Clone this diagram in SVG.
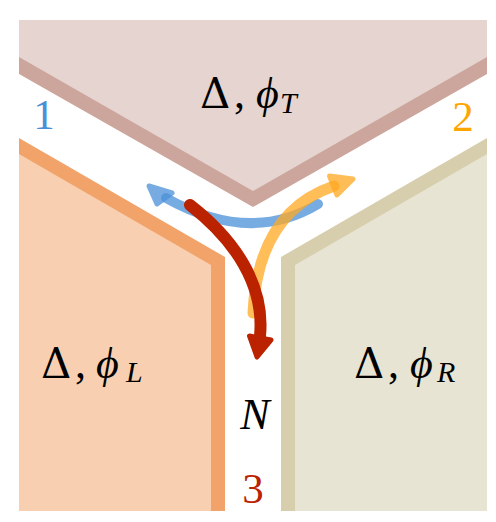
<svg xmlns="http://www.w3.org/2000/svg" width="496" height="522" viewBox="0 0 496 522">
<style>
.lbl{font-family:"Liberation Serif","DejaVu Serif",serif;font-size:44px;fill:#000}
.dl{font-family:"DejaVu Serif",serif;font-size:42px}
.it{font-style:italic}
.sub{font-style:italic;font-size:30px}
.num{font-family:"Liberation Serif","DejaVu Serif",serif;font-size:43px;text-anchor:middle}
.head{stroke-width:5;stroke-linejoin:round}
.line{fill:none;stroke-linecap:round}
</style>
<rect width="496" height="522" fill="#fff"/>
<g id="top">
<polygon points="19,20 487,20 487,74 253,207 19,74" fill="#cca69c"/>
<polygon points="19,20 487,20 487,57 253,191 19,57" fill="#e5d4cf"/>
<text class="lbl" y="108"><tspan x="200" class="dl">Δ</tspan><tspan x="234">,</tspan><tspan x="256" class="it">ϕ</tspan><tspan x="280" y="113" class="sub">T</tspan></text>
</g>
<g id="left">
<polygon points="19,138 225,257 225,511 19,511" fill="#f1a36a"/>
<polygon points="19,154 211,265 211,511 19,511" fill="#f8d0b1"/>
<text class="lbl" y="378"><tspan x="41" class="dl">Δ</tspan><tspan x="75">,</tspan><tspan x="96" class="it">ϕ</tspan><tspan x="126" y="382" class="sub">L</tspan></text>
</g>
<g id="right">
<polygon points="281,257 487,138 487,511 281,511" fill="#d6ceac"/>
<polygon points="295,265 487,154 487,511 295,511" fill="#e8e4d3"/>
<text class="lbl" y="378"><tspan x="354" class="dl">Δ</tspan><tspan x="388">,</tspan><tspan x="410" class="it">ϕ</tspan><tspan x="437" y="382" class="sub">R</tspan></text>
</g>
<g id="labels">
<text class="num" x="44" y="129" fill="#4a90d9">1</text>
<text class="num" x="463" y="131" fill="#ffa500">2</text>
<text class="num" x="253" y="503" fill="#bb2200">3</text>
<text class="lbl it" x="255" y="429" text-anchor="middle">N</text>
</g>
<g id="connectors">
<path class="line" d="M318 204 Q250 245 166 198" stroke="#4a90d9" stroke-width="10" opacity="0.75"/>
<polygon class="head" points="149,186 157,204 172,193" fill="#4a90d9" stroke="#4a90d9" opacity="0.75"/>
<path class="line" d="M253 313 Q258 212 334 186" stroke="#ffa820" stroke-width="11" opacity="0.75"/>
<polygon class="head" points="353,179 329.5,176 337,195" fill="#ffa820" stroke="#ffa820" opacity="0.75"/>
<path class="line" d="M190 205 C235 240 265 285 260 336" stroke="#bb2200" stroke-width="12"/>
<polygon class="head" points="257,357 249.5,336 271,340" fill="#bb2200" stroke="#bb2200"/>
</g>
</svg>
